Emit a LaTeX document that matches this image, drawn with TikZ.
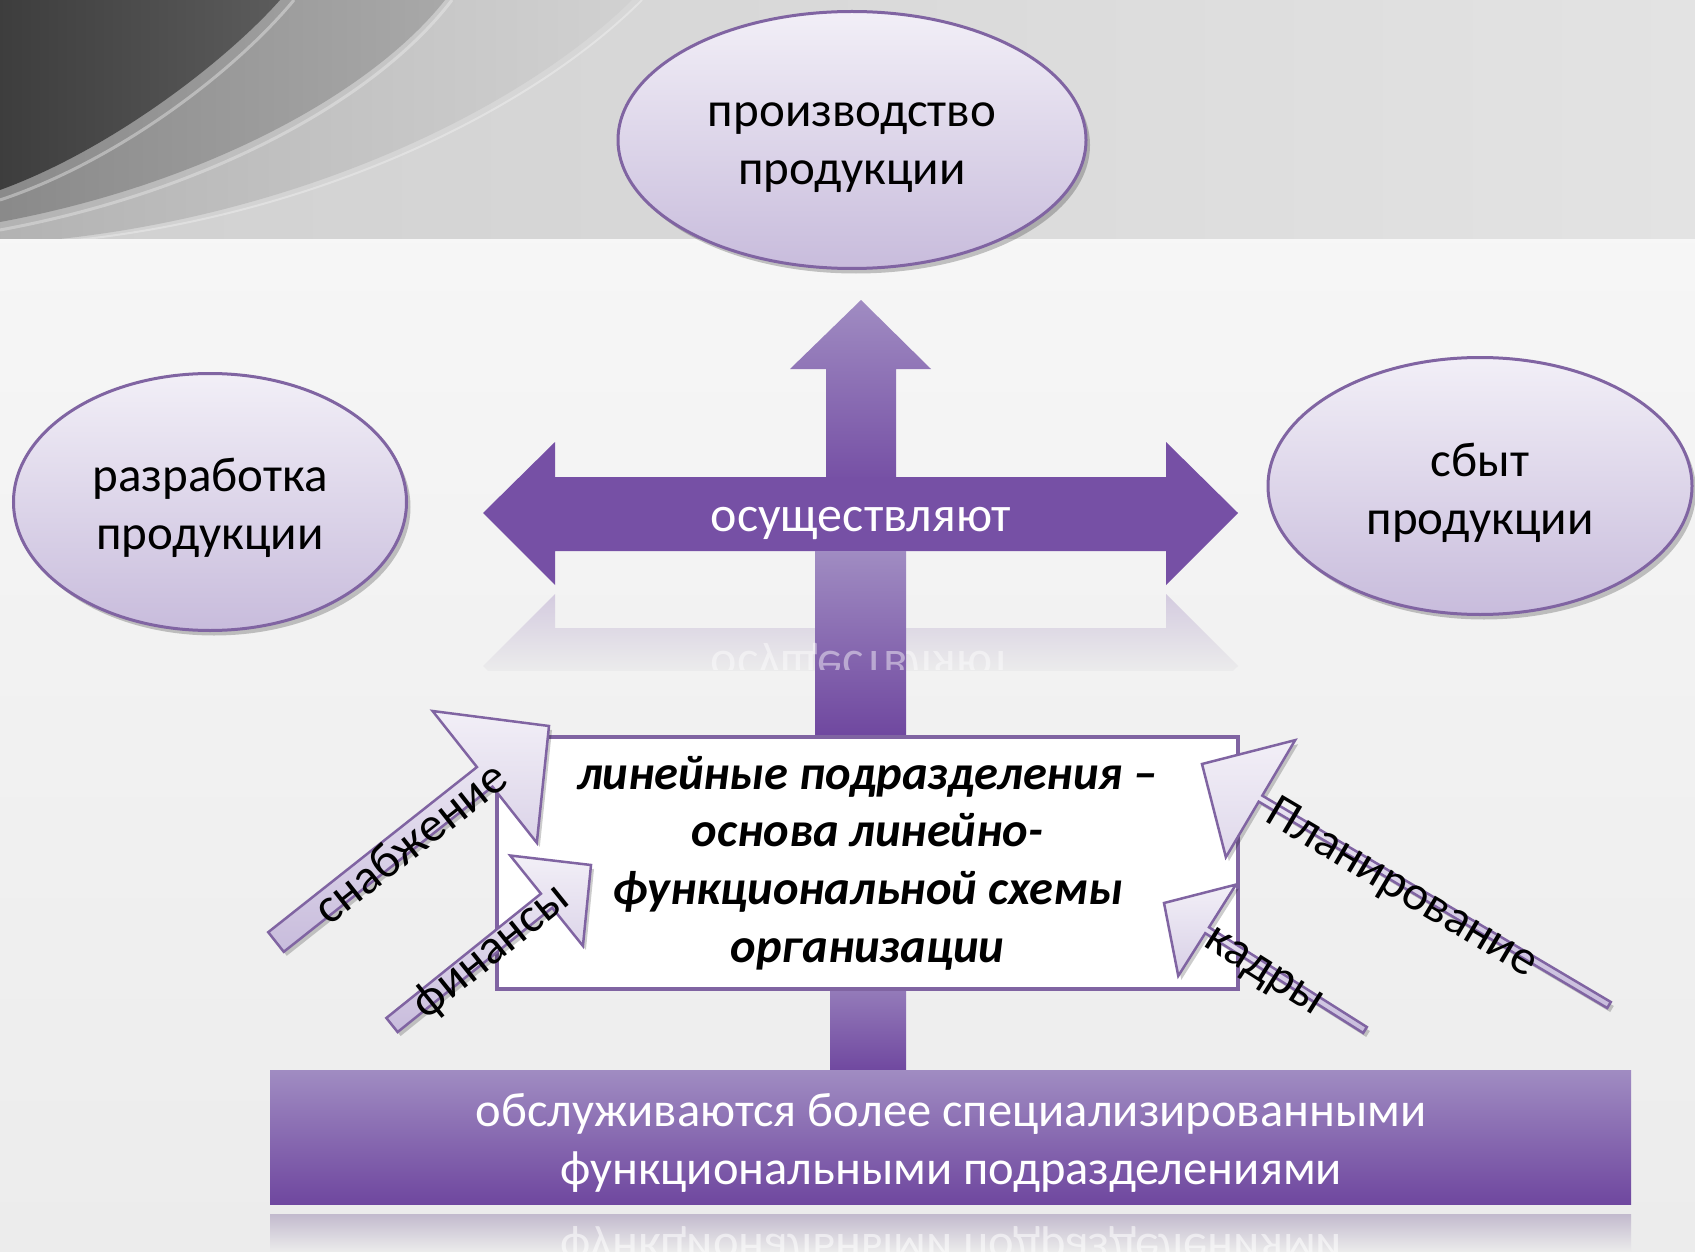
\documentclass[tikz,border=0pt]{standalone}
\usepackage{fontspec}
\setmainfont{Carlito}
\usetikzlibrary{calc,shadows,shapes.geometric}
\definecolor{bg}{HTML}{ECECEC}
\definecolor{bgtop}{HTML}{F6F6F6}
\definecolor{bandL}{HTML}{D0D0D0}
\definecolor{bandR}{HTML}{E3E3E3}
\definecolor{pline}{HTML}{8064A2}
\definecolor{pdark}{HTML}{6F479F}
\definecolor{pmid}{HTML}{7650A5}
\definecolor{plight}{HTML}{A08CC2}
\definecolor{lavtop}{HTML}{F2EFF7}
\definecolor{lavbot}{HTML}{C8BCDC}
\definecolor{refl}{HTML}{D3CADF}
\tikzset{
  ell/.style={ellipse, inner sep=0pt, draw=pline, line width=3pt,
    top color=lavtop, bottom color=lavbot,
    drop shadow={shadow xshift=4pt, shadow yshift=-5pt, opacity=0.22, fill=black}},
  elltext/.style={align=center, inner sep=0pt, font=\fontsize{49}{58}\selectfont},
  darrowstyle/.style={draw=pline, line width=2.5pt, line join=miter,
    top color=lavtop, bottom color=lavbot,
    drop shadow={shadow xshift=3pt, shadow yshift=-4pt, opacity=0.2, fill=black}},
  dlabel/.style={font=\fontsize{49}{54}\selectfont, inner sep=0pt, text=black},
  whitetext/.style={text=white, align=center, inner sep=0pt},
}
\newcommand\darrow[6]{%
  \coordinate (#6-b) at ($(#2)!#5pt!(#1)$);
  \path[darrowstyle] ($(#1)!#3pt!90:(#2)$) -- ($(#6-b)!#3pt!90:(#2)$)
    -- ($(#6-b)!#4pt!90:(#2)$) -- (#2) -- ($(#6-b)!#4pt!-90:(#2)$)
    -- ($(#6-b)!#3pt!-90:(#2)$) -- ($(#1)!#3pt!-90:(#2)$) -- cycle;
}
\begin{document}
\begin{tikzpicture}[x=1pt,y=-1pt]
\useasboundingbox (0,0) rectangle (1695,1252);
% background
\shade[top color=bgtop, bottom color=bg] (0,240) rectangle (1695,1252);
\shade[left color=bandL, right color=bandR] (0,0) rectangle (1695,240);
\begin{scope}
  \clip (0,0) rectangle (1695,240);
  \shade[left color=black!30, right color=black!18]
    (0,0) -- (632,0) .. controls (520,110) and (300,215) .. (50,240) -- (0,240) -- cycle;
  \shade[left color=black!46, right color=black!34]
    (0,0) -- (445,0) .. controls (370,95) and (200,185) .. (0,222) -- cycle;
  \shade[left color=black!76, right color=black!64]
    (0,0) -- (280,0) .. controls (225,62) and (110,150) .. (0,190) -- cycle;
  \draw[white, opacity=0.35, line width=3pt]
    (294,0) .. controls (236,70) and (120,160) .. (0,200);
  \draw[white, opacity=0.3, line width=3pt]
    (452,0) .. controls (376,100) and (206,192) .. (0,230);
  \draw[white, opacity=0.3, line width=2pt]
    (642,0) .. controls (528,114) and (306,220) .. (56,242);
\end{scope}
\fill[white!97!black] (0,239) rectangle (1695,243);

% ellipses
\node[ell, minimum width=468pt, minimum height=257pt] (prod) at (852,140) {};
\node[elltext] (prodT) at (852,148) {производство\\продукции};
\node[ell, minimum width=393pt, minimum height=257pt] (razr) at (210,502) {};
\node[elltext] (razrT) at (210,508) {разработка\\продукции};
\node[ell, minimum width=424pt, minimum height=257pt] (sbyt) at (1480,486) {};
\node[elltext] (sbytT) at (1480,493) {сбыт\\продукции};

% up arrow
\shade[top color=plight, bottom color=pmid]
  (861,300) -- (931,369) -- (896,369) -- (896,480) -- (826,480) -- (826,369) -- (790,369) -- cycle;
% reflection of horizontal arrow
\begin{scope}
  \clip (0,589) rectangle (1695,670);
  \clip (483,666) -- (555,737) -- (555,702) -- (1166,702) -- (1166,737) -- (1238,666)
    -- (1166,594) -- (1166,628) -- (555,628) -- (555,594) -- cycle;
  \shade[top color=refl, bottom color=bg] (0,592) rectangle (1695,672);
\end{scope}
% horizontal double arrow
\fill[pmid] (483,513) -- (555,442) -- (555,477) -- (1166,477) -- (1166,442) -- (1238,513)
  -- (1166,585) -- (1166,551) -- (555,551) -- (555,585) -- cycle;
\node[whitetext, font=\fontsize{50}{56}\selectfont] (osu) at (861,523) {осуществляют};
% lower vertical bar
\shade[top color=plight, bottom color=pdark] (815,551) rectangle (906,737);
\begin{scope}
  \clip (0,628) rectangle (1695,669);
  \node[whitetext, opacity=0.45, yscale=-1, font=\fontsize{50}{56}\selectfont] (osur) at (861,660) {осуществляют};
\end{scope}

% connector to bottom bar
\shade[top color=plight!80!pdark, bottom color=pdark] (830,985) rectangle (906,1072);
% bottom bar
\shade[top color=plight, bottom color=pdark] (270,1070) rectangle (1631,1204);
\node[whitetext, font=\fontsize{48.5}{58}\selectfont] (obsl) at (951,1143)
  {обслуживаются более специализированными\\функциональными подразделениями};
% bottom reflection
\shade[top color=refl!92!black, bottom color=bg] (270,1214) rectangle (1631,1252);
\begin{scope}
  \clip (270,1214) rectangle (1631,1252);
  \node[whitetext, opacity=0.55, yscale=-1, font=\fontsize{48.5}{58}\selectfont] (obslr) at (951,1247)
    {функциональными подразделениями};
\end{scope}

% central box
\node[draw=pline, line width=3.5pt, fill=white, minimum width=741pt, minimum height=252pt,
  inner sep=0pt, align=center, font=\fontsize{48.5}{57.7}\selectfont\bfseries\itshape]
  (box) at (867.5,863) {линейные подразделения –\\основа линейно-\\функциональной схемы\\организации};

% diagonal arrows
\coordinate (snabT) at (276,942);  \coordinate (snabH) at (549,726);
\coordinate (finT) at (392,1025);  \coordinate (finH) at (591,865);
\coordinate (planT) at (1609,1005); \coordinate (planH) at (1202,764);
\coordinate (kadT) at (1365,1030); \coordinate (kadH) at (1164,903);
\darrow{snabT}{snabH}{12.5}{84}{82}{snab}
\darrow{finT}{finH}{9}{58}{57}{fin}
\darrow{planT}{planH}{3.5}{68}{68}{plan}
\darrow{kadT}{kadH}{3.5}{54}{51}{kad}
\path ($(snabT)+(0,6)$) -- ($(snabH)+(0,6)$) node[dlabel, pos=0.49, sloped] (snabL) {снабжение};
\path ($(finT)+(0,7)$) -- ($(finH)+(0,7)$) node[dlabel, pos=0.5, sloped] (finL) {финансы};
\path ($(planT)+(0,7)$) -- ($(planH)+(0,7)$) node[dlabel, pos=0.51, sloped] (planL) {Планирование};
\path ($(kadT)+(0,9)$) -- ($(kadH)+(0,9)$) node[dlabel, pos=0.51, sloped] (kadL) {кадры};
\end{tikzpicture}
\end{document}
